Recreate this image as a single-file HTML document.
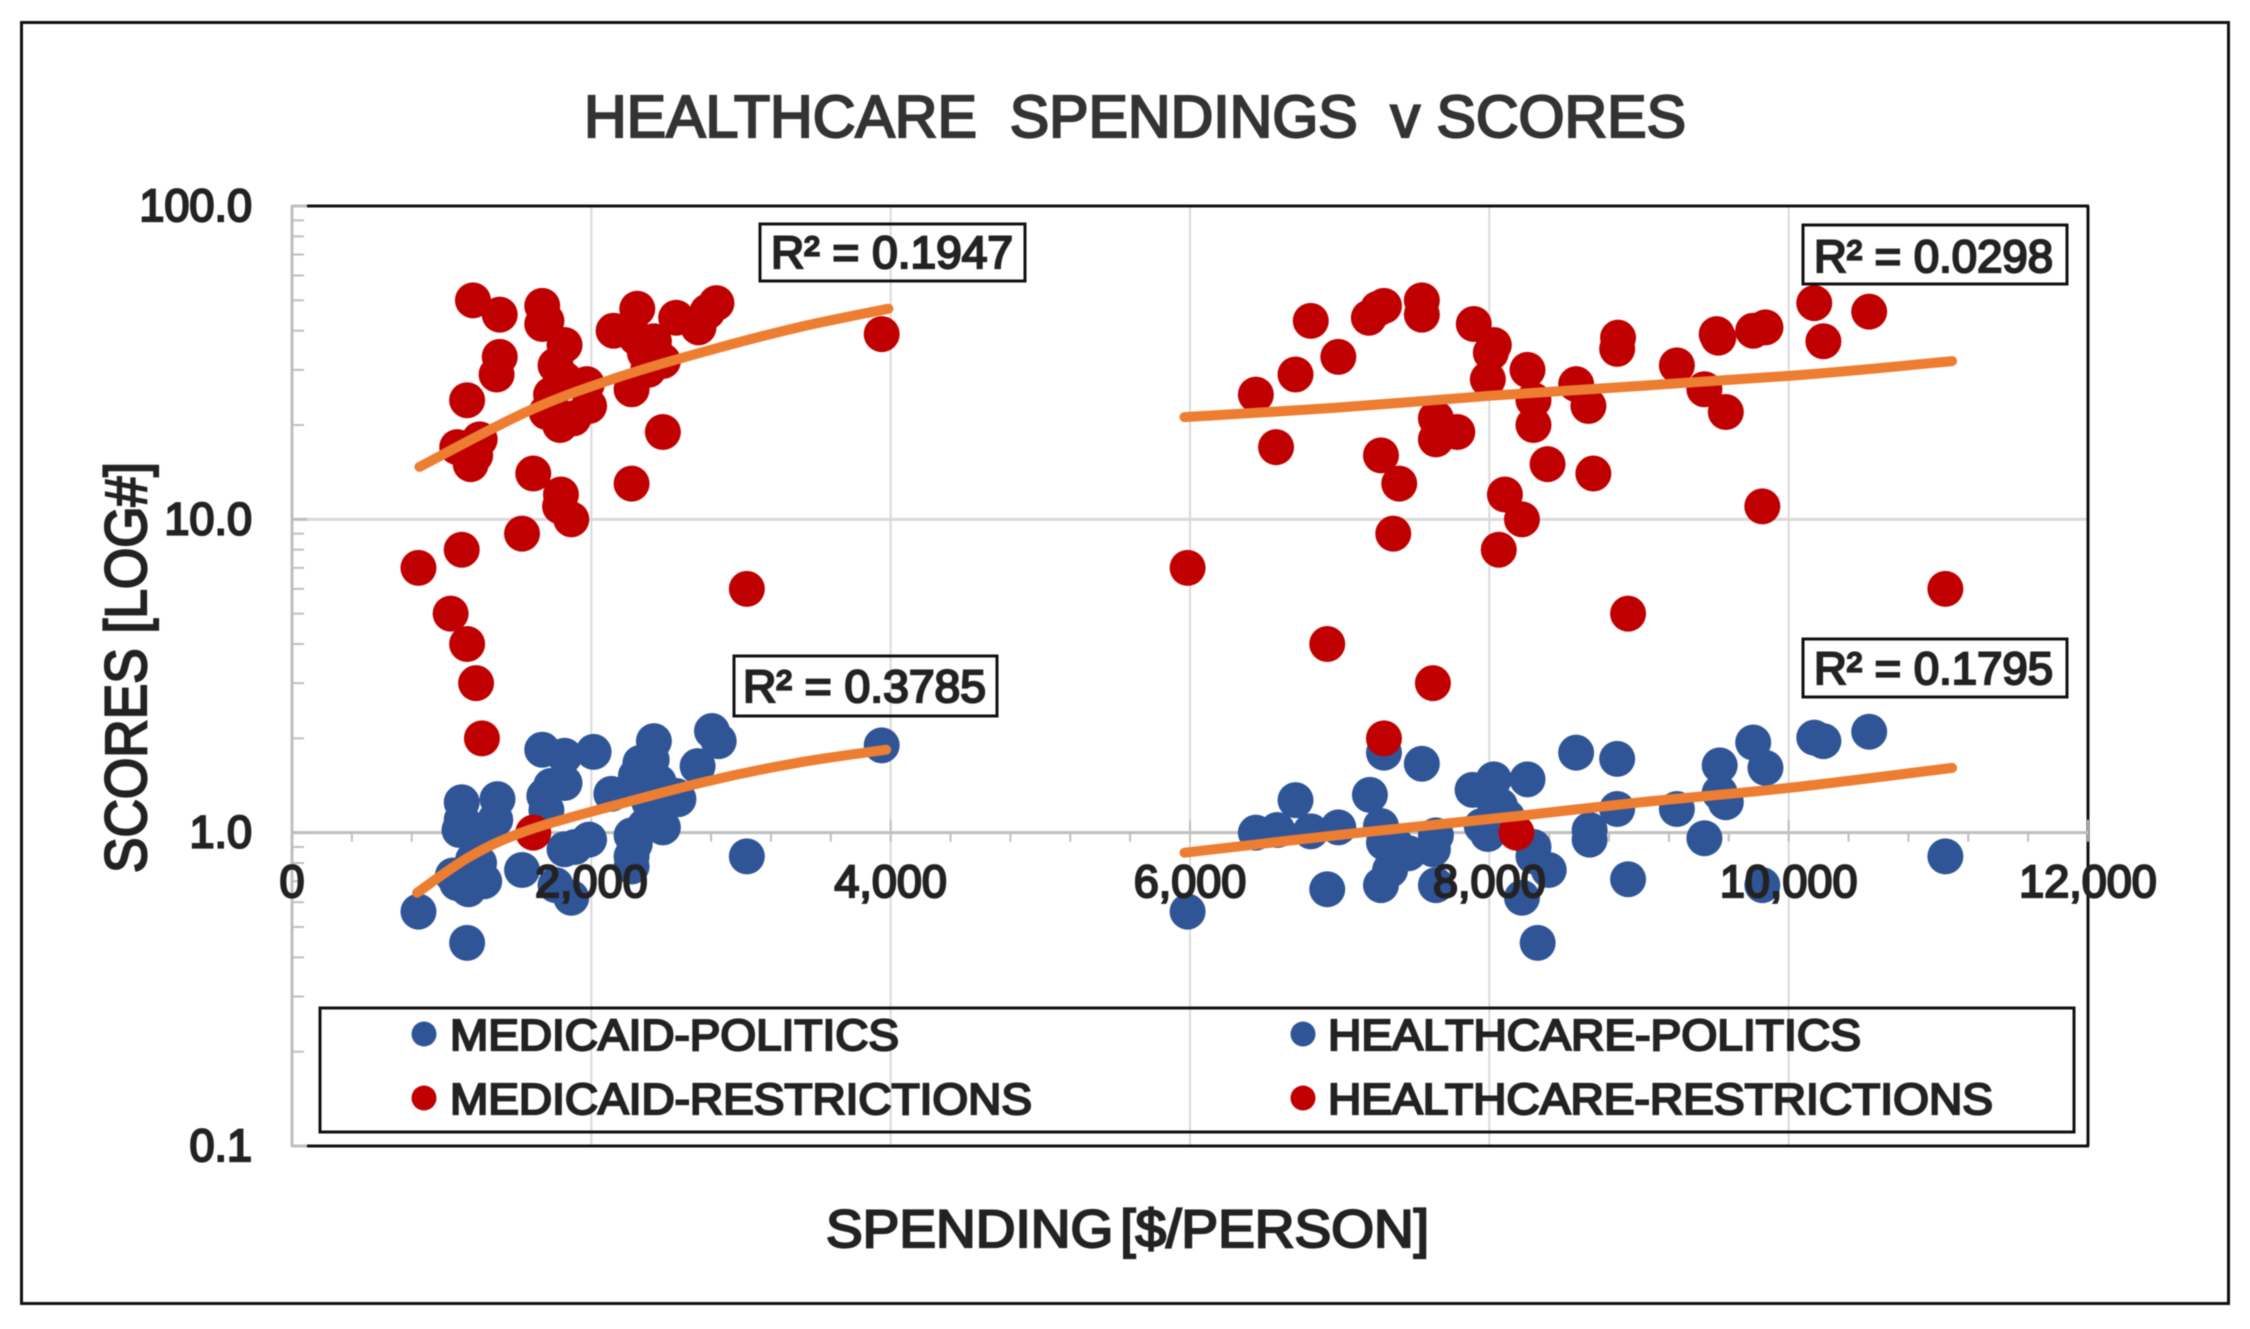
<!DOCTYPE html>
<html lang="en">
<head>
<meta charset="utf-8">
<title>Healthcare Spendings v Scores</title>
<style>
html,body{margin:0;padding:0;background:#fff;width:2250px;height:1329px;overflow:hidden}
svg{display:block;filter:blur(0.6px)}
text{font-family:"Liberation Sans",Arial,sans-serif;fill:#222;stroke:#222;stroke-width:2.2px;font-weight:normal}
</style>
</head>
<body>
<svg id="chart" xmlns="http://www.w3.org/2000/svg" width="2250" height="1329" viewBox="0 0 2250 1329">
  <rect x="0" y="0" width="2250" height="1329" fill="#fff"/>
  <rect x="21.5" y="22.5" width="2207" height="1281" fill="none" stroke="#111" stroke-width="3"/>
  <text x="584" y="137" font-size="59" textLength="1102" lengthAdjust="spacingAndGlyphs" style="white-space:pre;fill:#333;stroke:#333" xml:space="preserve">HEALTHCARE  SPENDINGS  v SCORES</text>
  <g id="grid"></g>
  <g id="axes"></g>
  <g id="points"></g>
  <g id="trends"></g>
  <g id="labels"></g>
  <text transform="translate(146,873) rotate(-90)" font-size="58" textLength="411" lengthAdjust="spacingAndGlyphs">SCORES [LOG#]</text>
  <text x="826" y="1247" font-size="53" textLength="603" lengthAdjust="spacingAndGlyphs" word-spacing="-8">SPENDING [$/PERSON]</text>

  <g>
    <rect x="760" y="224" width="265" height="57" fill="none" stroke="#111" stroke-width="3"/>
    <text x="771" y="268" font-size="45" textLength="242" lengthAdjust="spacingAndGlyphs">R² = 0.1947</text>
  </g>
  <g>
    <rect x="734" y="656" width="263" height="60" fill="none" stroke="#111" stroke-width="3"/>
    <text x="743" y="702" font-size="45" textLength="243" lengthAdjust="spacingAndGlyphs">R² = 0.3785</text>
  </g>
  <g>
    <rect x="1803" y="225" width="264" height="59" fill="none" stroke="#111" stroke-width="3"/>
    <text x="1814" y="272" font-size="45" textLength="239" lengthAdjust="spacingAndGlyphs">R² = 0.0298</text>
  </g>
  <g>
    <rect x="1803" y="639" width="264" height="58" fill="none" stroke="#111" stroke-width="3"/>
    <text x="1814" y="684" font-size="45" textLength="239" lengthAdjust="spacingAndGlyphs">R² = 0.1795</text>
  </g>

  <g>
    <rect x="320" y="1008" width="1754" height="124" fill="none" stroke="#111" stroke-width="3"/>
    <g>
      <circle cx="424" cy="1034" r="12.5" fill="#2f5597"/>
      <text x="450" y="1050" font-size="44" textLength="449" lengthAdjust="spacingAndGlyphs">MEDICAID-POLITICS</text>
    </g>
    <g>
      <circle cx="424" cy="1098" r="12.5" fill="#c00000"/>
      <text x="450" y="1114" font-size="44" textLength="582" lengthAdjust="spacingAndGlyphs">MEDICAID-RESTRICTIONS</text>
    </g>
    <g>
      <circle cx="1303" cy="1034" r="12.5" fill="#2f5597"/>
      <text x="1328" y="1050" font-size="44" textLength="533" lengthAdjust="spacingAndGlyphs">HEALTHCARE-POLITICS</text>
    </g>
    <g>
      <circle cx="1303" cy="1098" r="12.5" fill="#c00000"/>
      <text x="1328" y="1114" font-size="44" textLength="665" lengthAdjust="spacingAndGlyphs">HEALTHCARE-RESTRICTIONS</text>
    </g>
  </g>
</svg>

<script>
// ---- Chart data ----
const xTickValues = [0, 2000, 4000, 6000, 8000, 10000, 12000];
const xTickLabels = ['0', '2,000', '4,000', '6,000', '8,000', '10,000', '12,000'];
const yTickValues = [100, 10, 1, 0.1];
const yTickLabels = ['100.0', '10.0', '1.0', '0.1'];

const medicaidPoliticsX = [2806,2851,2418,1672,1821,2015,3940,2403,2328,2710,2298,1821,1731,1686,2134,1373,1134,2567,2582,2328,2388,1358,1119,1134,1224,2478,2269,2358,1985,1821,2269,3039,1537,1075,1284,1179,1104,845,1170,1866,1761,2269,1890,1300,1210,2290,2420,1700,1250,2450];
const medicaidPoliticsY = [2.11,1.96,1.96,1.84,1.76,1.81,1.9,1.71,1.67,1.63,1.52,1.44,1.41,1.31,1.33,1.28,1.25,1.31,1.28,1.37,1.25,1.1,1.02,1.1,0.95,1.04,0.98,1.05,0.95,0.885,0.84,0.84,0.76,0.73,0.7,0.66,0.69,0.56,0.445,0.62,0.68,0.78,0.9,1.0,0.82,0.92,1.15,1.18,0.8,1.45];

const medicaidRestrictionsX = [1612,1269,1230,1170,1060,3039,845,1134,1537,1866,1791,1797,2269,1612,1194,1224,1104,1254,2478,1791,1880,1701,1985,1170,1731,2269,1970,1821,1367,2380,1761,2478,1388,2358,2420,1821,2418,2300,3940,2149,2716,1672,1700,2567,1388,2776,2307,1672,2836,1209];
const medicaidRestrictionsY = [1,2,3,4,5,6,7,8,9,10,11,12,13,14,15,16,17,18,19,20,21,22,23,24,25,26,27,28,29,30,31,32,33,34,35,36,37,38,39,40,41,42,43,44,45,46,47,48,49,50];

const healthcarePoliticsX = [10538,10171,10232,9763,9845,9539,8580,8854,7296,7549,8030,7888,8255,6705,7202,8010,8071,8854,9253,9539,9580,8670,8670,9437,6440,6583,6807,6991,7276,7296,7378,7949,7643,7990,7623,8295,8397,8295,7276,7337,6917,7643,8218,8323,8927,9824,11047,5984,7460,8120];
const healthcarePoliticsY = [2.1,2.01,1.96,1.94,1.61,1.64,1.8,1.72,1.8,1.66,1.48,1.37,1.48,1.27,1.32,1.31,1.22,1.19,1.19,1.34,1.25,1.02,0.95,0.96,1.0,1.02,1.01,1.04,1.05,0.93,0.91,1.05,0.98,0.99,0.885,0.9,0.76,0.84,0.68,0.76,0.66,0.68,0.62,0.445,0.71,0.68,0.84,0.56,0.86,1.12];

const healthcareRestrictionsX = [8181,7296,7623,6917,8927,11047,5984,8063,7358,8218,9824,8104,7398,8695,8389,7276,6575,7643,7786,8295,7643,9580,8662,8295,6440,9437,8580,7990,6705,8255,9253,9530,6991,8010,8854,8030,10232,8860,9519,9763,9845,7896,6807,7195,7549,10538,7256,7296,10171,7549];
const healthcareRestrictionsY = [1,2,3,4,5,6,7,8,9,10,11,12,13,14,15,16,17,18,19,20,21,22,23,24,25,26,27,28,29,30,31,38,33,34,35,36,37,38,39,40,41,42,43,44,45,46,47,48,49,50];

// Trendlines
const medicaidPoliticsTrendX = [836,1194,1582,2179,2776,3373,3970];
const medicaidPoliticsTrendY = [0.643,0.842,1.02,1.23,1.46,1.67,1.84];
const medicaidRestrictionsTrendX = [851,1582,2179,2776,3373,3985];
const medicaidRestrictionsTrendY = [14.7,22.2,28.4,34.5,40.9,47];
const healthcarePoliticsTrendX = [5963,7133,8193,9009,10000,11092];
const healthcarePoliticsTrendY = [0.863,1.0,1.13,1.25,1.39,1.61];
const healthcareRestrictionsTrendX = [5963,6970,8010,10000,11092];
const healthcareRestrictionsTrendY = [21.2,22.7,24.8,28.7,32];

// ---- Scales ----
const plotLeft = 292, plotRight = 2088, plotTop = 206, plotBottom = 1146;
const xMax = 12000, logMin = -1, logMax = 2;
function xScale(v) { return plotLeft + (v / xMax) * (plotRight - plotLeft); }
function yScale(v) { return plotBottom - ((Math.log10(v) - logMin) / (logMax - logMin)) * (plotBottom - plotTop); }

const NS = 'http://www.w3.org/2000/svg';
function mk(tag, attrs, parent) {
  const el = document.createElementNS(NS, tag);
  for (const k in attrs) el.setAttribute(k, attrs[k]);
  parent.appendChild(el);
  return el;
}
const gridG = document.getElementById('grid');
const axesG = document.getElementById('axes');
const pointsG = document.getElementById('points');
const trendsG = document.getElementById('trends');
const labelsG = document.getElementById('labels');

// ---- Gridlines ----
xTickValues.slice(1, -1).forEach(function (v) {
  const el = mk('line', {x1: xScale(v), x2: xScale(v), y1: plotTop, y2: plotBottom, stroke: '#d9d9d9', 'stroke-width': 2}, gridG);
  
  
});
[10].forEach(function (v) {
  const el = mk('line', {x1: plotLeft, x2: plotRight, y1: yScale(v), y2: yScale(v), stroke: '#d9d9d9', 'stroke-width': 3}, gridG);
  
  
});

// ---- Axes and borders ----
function axisLine(name, x1, y1, x2, y2, color, w) {
  const el = mk('line', {x1: x1, y1: y1, x2: x2, y2: y2, stroke: color, 'stroke-width': w}, axesG);
  
  
}
axisLine('plot-top-border', plotLeft + 15, plotTop, plotRight + 1, plotTop, '#111', 3);
axisLine('plot-right-border', plotRight, plotTop, plotRight, plotBottom, '#111', 3);
axisLine('plot-bottom-border', plotLeft + 15, plotBottom, plotRight + 1, plotBottom, '#111', 3);
axisLine('y-axis-line', plotLeft, plotTop - 1, plotLeft, plotBottom + 1, '#bfbfbf', 3);
axisLine('x-axis-line', plotLeft, yScale(1), plotRight, yScale(1), '#bfbfbf', 3);

yTickValues.forEach(function (v) {
  axisLine('y-major-tick', plotLeft, yScale(v), plotLeft + 15, yScale(v), '#bfbfbf', 3);
});
[0.1, 1, 10].forEach(function (d) {
  [2, 3, 4, 5, 6, 7, 8, 9].forEach(function (m) {
    axisLine('y-minor-tick', plotLeft, yScale(d * m), plotLeft + 12, yScale(d * m), '#bfbfbf', 2);
  });
});
for (let v = 0; v <= xMax; v += 400) {
  if (v % 2000 === 0) {
    axisLine('x-major-tick', xScale(v), yScale(1) - 13, xScale(v), yScale(1) + 9, '#bfbfbf', 2);
  } else {
    axisLine('x-minor-tick', xScale(v), yScale(1), xScale(v), yScale(1) + 9, '#bfbfbf', 2);
  }
}

// ---- Points ----
function drawPoints(xs, ys, color, name) {
  xs.forEach(function (x, i) {
    const el = mk('circle', {cx: xScale(x), cy: yScale(ys[i]), r: 18, fill: color}, pointsG);
    
    
  });
}
drawPoints(medicaidPoliticsX, medicaidPoliticsY, '#2f5597', 'medicaid-politics-point');
drawPoints(healthcarePoliticsX, healthcarePoliticsY, '#2f5597', 'healthcare-politics-point');
drawPoints(medicaidRestrictionsX, medicaidRestrictionsY, '#c00000', 'medicaid-restrictions-point');
drawPoints(healthcareRestrictionsX, healthcareRestrictionsY, '#c00000', 'healthcare-restrictions-point');

// ---- Trendlines (smoothed through the read points) ----
function drawTrend(xs, ys, name) {
  const pts = xs.map(function (x, i) { return [xScale(x), yScale(ys[i])]; });
  let d = 'M' + pts[0][0].toFixed(1) + ' ' + pts[0][1].toFixed(1);
  for (let i = 0; i < pts.length - 1; i++) {
    const p0 = pts[Math.max(i - 1, 0)], p1 = pts[i], p2 = pts[i + 1], p3 = pts[Math.min(i + 2, pts.length - 1)];
    const c1x = p1[0] + (p2[0] - p0[0]) / 6, c1y = p1[1] + (p2[1] - p0[1]) / 6;
    const c2x = p2[0] - (p3[0] - p1[0]) / 6, c2y = p2[1] - (p3[1] - p1[1]) / 6;
    d += 'C' + c1x.toFixed(1) + ' ' + c1y.toFixed(1) + ' ' + c2x.toFixed(1) + ' ' + c2y.toFixed(1) + ' ' + p2[0].toFixed(1) + ' ' + p2[1].toFixed(1);
  }
  const el = mk('path', {d: d, fill: 'none', stroke: '#ed7d31', 'stroke-width': 10, 'stroke-linecap': 'round', 'stroke-linejoin': 'round'}, trendsG);
  
  
}
drawTrend(medicaidPoliticsTrendX, medicaidPoliticsTrendY, 'medicaid-politics-trendline');
drawTrend(healthcarePoliticsTrendX, healthcarePoliticsTrendY, 'healthcare-politics-trendline');
drawTrend(medicaidRestrictionsTrendX, medicaidRestrictionsTrendY, 'medicaid-restrictions-trendline');
drawTrend(healthcareRestrictionsTrendX, healthcareRestrictionsTrendY, 'healthcare-restrictions-trendline');

// ---- Tick labels ----
xTickValues.forEach(function (v, i) {
  const el = mk('text', {x: xScale(v), y: 897, 'text-anchor': 'middle', 'font-size': 45}, labelsG);
  el.textContent = xTickLabels[i];
  
  
});
yTickValues.forEach(function (v, i) {
  const el = mk('text', {x: 252, y: yScale(v) + 15, 'text-anchor': 'end', 'font-size': 45}, labelsG);
  el.textContent = yTickLabels[i];
  
  
});
</script>
</body>
</html>
